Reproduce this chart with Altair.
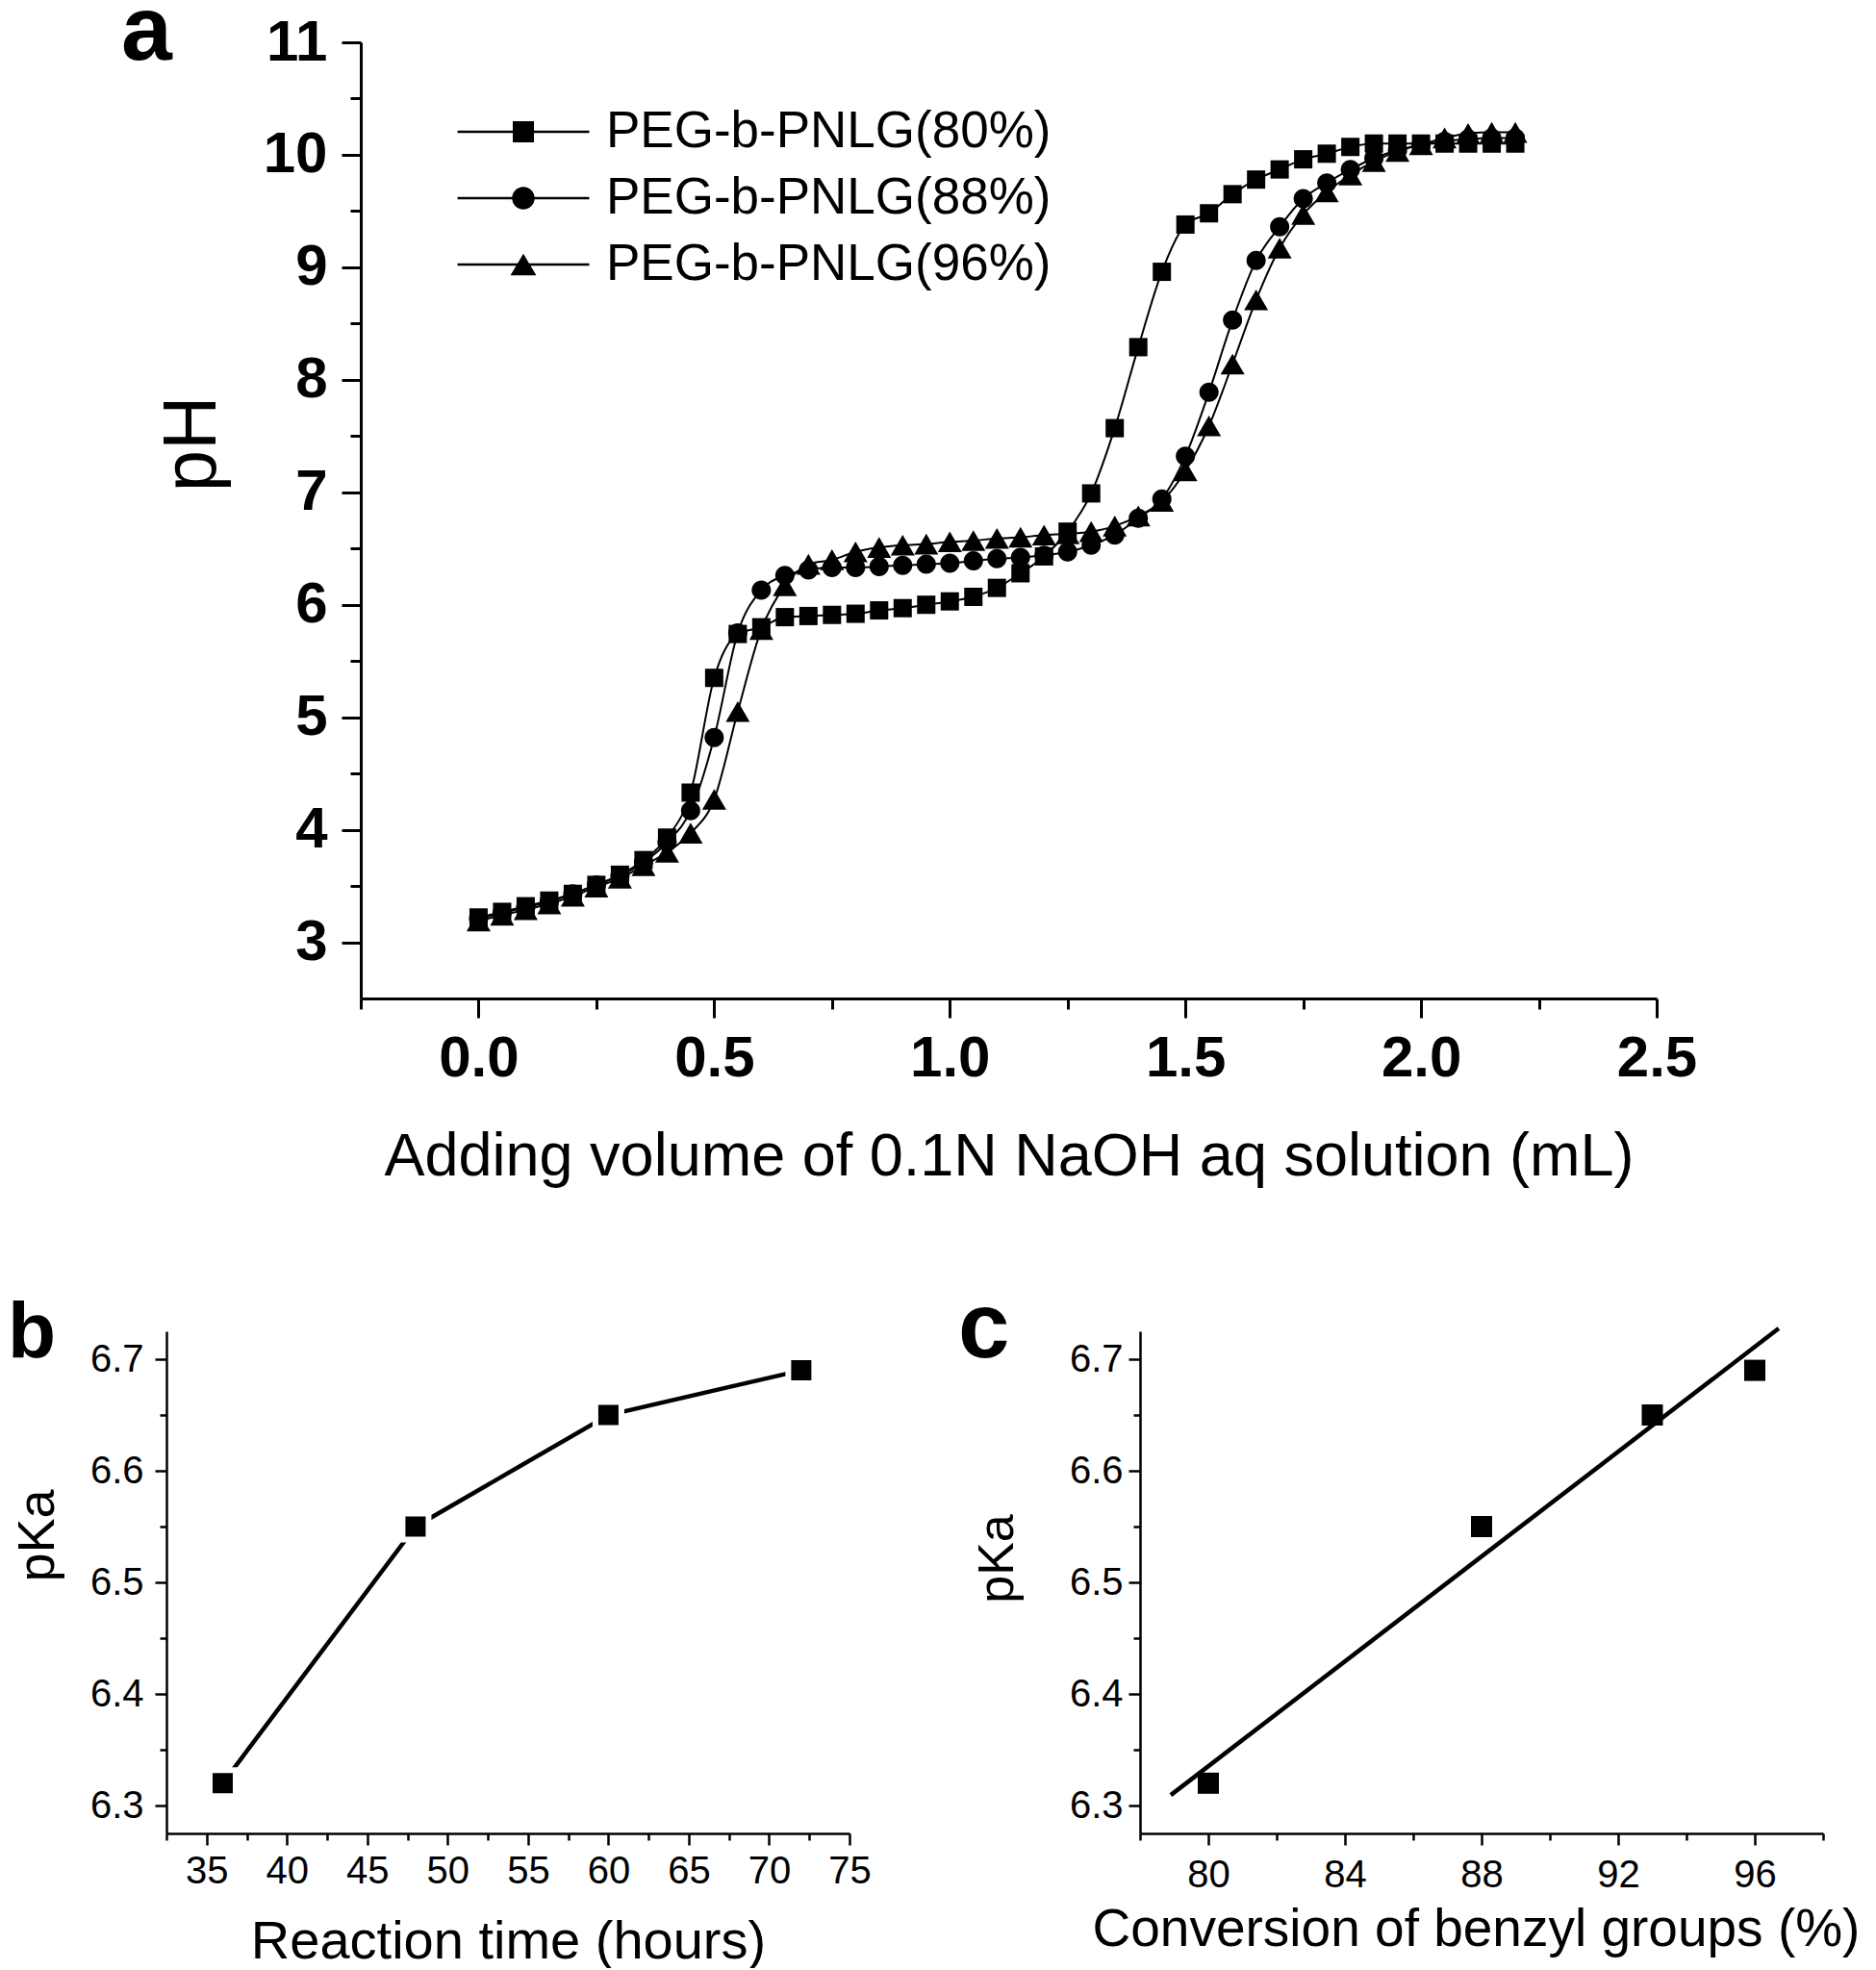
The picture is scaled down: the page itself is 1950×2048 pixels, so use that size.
import altair as alt
import pandas as pd

FONT = "Liberation Sans"

# ---------------- Panel a : titration curves ----------------
volume = [0.00, 0.05, 0.10, 0.15, 0.20, 0.25, 0.30, 0.35, 0.40, 0.45,
          0.50, 0.55, 0.60, 0.65, 0.70, 0.75, 0.80, 0.85, 0.90, 0.95,
          1.00, 1.05, 1.10, 1.15, 1.20, 1.25, 1.30, 1.35, 1.40, 1.45,
          1.50, 1.55, 1.60, 1.65, 1.70, 1.75, 1.80, 1.85, 1.90, 1.95,
          2.00, 2.05, 2.10, 2.15, 2.20]
ph_80 = [3.22, 3.27, 3.32, 3.37, 3.43, 3.51, 3.60, 3.73, 3.93, 4.33,
         5.35, 5.74, 5.80, 5.89, 5.90, 5.91, 5.92, 5.95, 5.97, 6.00,
         6.03, 6.07, 6.15, 6.28, 6.43, 6.65, 6.99, 7.57, 8.29, 8.96,
         9.38, 9.48, 9.65, 9.78, 9.87, 9.96, 10.01, 10.07, 10.10, 10.10,
         10.10, 10.10, 10.10, 10.10, 10.10]
ph_88 = [3.21, 3.26, 3.31, 3.36, 3.43, 3.51, 3.59, 3.71, 3.89, 4.17,
         4.82, 5.75, 6.13, 6.26, 6.31, 6.33, 6.33, 6.34, 6.35, 6.36,
         6.37, 6.39, 6.41, 6.42, 6.44, 6.47, 6.53, 6.62, 6.77, 6.94,
         7.32, 7.89, 8.53, 9.06, 9.36, 9.61, 9.75, 9.87, 9.97, 10.04,
         10.09, 10.12, 10.14, 10.15, 10.15]
ph_96 = [3.19, 3.24, 3.29, 3.34, 3.41, 3.49, 3.57, 3.68, 3.80, 3.97,
         4.27, 5.05, 5.78, 6.17, 6.36, 6.40, 6.47, 6.51, 6.53, 6.54,
         6.56, 6.57, 6.59, 6.60, 6.62, 6.63, 6.65, 6.70, 6.79, 6.92,
         7.19, 7.59, 8.14, 8.71, 9.17, 9.47, 9.67, 9.82, 9.94, 10.03,
         10.09, 10.15, 10.19, 10.20, 10.20]
series_names = ["PEG-b-PNLG(80%)", "PEG-b-PNLG(88%)", "PEG-b-PNLG(96%)"]

a_x_major = [0.0, 0.5, 1.0, 1.5, 2.0, 2.5]
a_x_minor = [-0.25, 0.25, 0.75, 1.25, 1.75, 2.25]
a_y_major = [3, 4, 5, 6, 7, 8, 9, 10, 11]
a_y_minor = [3.5, 4.5, 5.5, 6.5, 7.5, 8.5, 9.5, 10.5]

# ---------------- Panel b : pKa vs reaction time ----------------
reaction_time = [36, 48, 60, 72]
pka_time = [6.32, 6.55, 6.65, 6.69]
b_x_major = [35, 40, 45, 50, 55, 60, 65, 70, 75]
b_x_minor = [32.5, 37.5, 42.5, 47.5, 52.5, 57.5, 62.5, 67.5, 72.5]

# ---------------- Panel c : pKa vs conversion ----------------
conversion = [80, 88, 93, 96]
pka_conv = [6.32, 6.55, 6.65, 6.69]
c_x_major = [80, 84, 88, 92, 96]
c_x_minor = [78, 82, 86, 90, 94, 98]

pka_major = [6.3, 6.4, 6.5, 6.6, 6.7]
pka_minor = [6.35, 6.45, 6.55, 6.65]

panel_labels = ["a", "b", "c"]

# marker glyphs (custom symbol paths, unit box scaled by sqrt(size)/2)
marker_paths = [
    "M-0.76,-0.76H0.76V0.76H-0.76Z",
    "M0.8,0C0.8,0.4418,0.4418,0.8,0,0.8C-0.4418,0.8,-0.8,0.4418,-0.8,0"
    "C-0.8,-0.4418,-0.4418,-0.8,0,-0.8C0.4418,-0.8,0.8,-0.4418,0.8,0Z",
    "M0,-0.866L1,0.866L-1,0.866Z",
]
# legend glyphs: a thin filled bar (the connecting line) plus the marker, all filled
legend_paths = [
    "M-1.63,-0.0286H1.63V0.0286H-1.63Z"
    "M-0.262,-0.262H0.262V0.262H-0.262Z",
    "M-1.63,-0.0286H1.63V0.0286H-1.63Z"
    "M0.28,0C0.28,0.1546,0.1546,0.28,0,0.28C-0.1546,0.28,-0.28,0.1546,-0.28,0"
    "C-0.28,-0.1546,-0.1546,-0.28,0,-0.28C0.1546,-0.28,0.28,-0.1546,0.28,0Z",
    "M-1.63,-0.0286H1.63V0.0286H-1.63Z"
    "M0,-0.27L0.32,0.27L-0.32,0.27Z",
]

rows = []
for name, vals in zip(series_names, [ph_80, ph_88, ph_96]):
    for v, p in zip(volume, vals):
        rows.append({"volume": v, "ph": p, "series": name})
df_a = pd.DataFrame(rows)
df_b = pd.DataFrame({"time": reaction_time, "pka": pka_time})
df_c = pd.DataFrame({"conv": conversion, "pka": pka_conv})

NOVIEW = alt.ViewBackground(stroke="transparent", strokeWidth=0)


def axis(values, tick, width, font_size=40, labels=True, fmt=None, domain=True,
         pad=0, orient="bottom", bold=False, **kw):
    props = dict(values=values, orient=orient, ticks=True, tickSize=tick, tickWidth=width,
                 tickColor="black", domain=domain, domainColor="black", domainWidth=width,
                 grid=False, labels=labels, labelFont=FONT, labelFontSize=font_size,
                 labelColor="black", labelPadding=pad, labelOverlap=False, labelFlush=False,
                 labelFontWeight="bold" if bold else "normal",
                 titleFont=FONT, titleColor="black", titleFontWeight="normal")
    if fmt:
        props["format"] = fmt
    props.update(kw)
    return alt.Axis(**props)


def letter(idx, size, px, py):
    return alt.Chart(pd.DataFrame({"label": [panel_labels[idx]]})).mark_text(
        align="left", baseline="alphabetic", fontSize=size, fontWeight="bold",
        font=FONT, color="black").encode(text="label:N", x=alt.value(px), y=alt.value(py))


# ---------------- chart a ----------------
xa = alt.Scale(domain=[-0.25, 2.5], nice=False, zero=False)
ya = alt.Scale(domain=[2.5, 11], nice=False, zero=False)
base_a = alt.Chart(df_a)

lines_a = base_a.mark_line(color="black", strokeWidth=2, interpolate="monotone").encode(
    x=alt.X("volume:Q", scale=xa, axis=axis(a_x_minor, 11, 3, labels=False, domain=False, title=None)),
    y=alt.Y("ph:Q", scale=ya, axis=axis(a_y_minor, 11, 3, labels=False, domain=False,
                                        orient="left", title=None)),
    detail="series:N",
)
points_a = base_a.mark_point(filled=True, fill="black", opacity=1, size=625).encode(
    x=alt.X("volume:Q", scale=xa,
            axis=axis(a_x_major, 20, 3, 60, fmt=".1f", pad=13, bold=True,
                      title="Adding volume of 0.1N NaOH aq solution (mL)",
                      titleFontSize=63, titlePadding=41)),
    y=alt.Y("ph:Q", scale=ya,
            axis=axis(a_y_major, 20, 3, 60, fmt="d", pad=15, orient="left", bold=True,
                      title="pH", titleFontSize=78, titleAngle=270, titleX=-152, titleY=417,
                      titleBaseline="alphabetic", titleAlign="center")),
    shape=alt.Shape("series:N", scale=alt.Scale(domain=series_names, range=marker_paths),
                    legend=None),
)
legend_a = base_a.transform_filter("false").mark_point(
    filled=True, fill="black", opacity=1).encode(
    shape=alt.Shape("series:N", scale=alt.Scale(domain=series_names, range=legend_paths),
                    legend=alt.Legend(orient="none", legendX=127, legendY=51, title=None,
                                      padding=0, labelFont=FONT, labelFontSize=53,
                                      labelColor="black", labelLimit=0, labelOffset=44,
                                      rowPadding=0, symbolSize=7056, symbolStrokeWidth=0,
                                      symbolFillColor="black", symbolOpacity=1,
                                      strokeColor="transparent")),
)
chart_a = (alt.layer(lines_a, points_a, legend_a, letter(0, 95, -249, 18))
           .resolve_scale(shape="independent")
           .resolve_axis(x="independent", y="independent")
           .properties(width=1347, height=994, view=NOVIEW))

# ---------------- chart b ----------------
xb = alt.Scale(domain=[32.5, 75], nice=False, zero=False)
yk = alt.Scale(domain=[6.275, 6.725], nice=False, zero=False)
line_b = alt.Chart(df_b).mark_line(color="black", strokeWidth=4.5).encode(
    x=alt.X("time:Q", scale=xb, axis=axis(b_x_minor, 7, 2.5, labels=False, domain=False, title=None)),
    y=alt.Y("pka:Q", scale=yk, axis=axis(pka_minor, 7, 2.5, labels=False, domain=False,
                                         orient="left", title=None)),
)
pts_b = alt.Chart(df_b).mark_point(shape="square", filled=True, fill="black", stroke="white",
                                   strokeWidth=6, size=729, opacity=1).encode(
    x=alt.X("time:Q", scale=xb,
            axis=axis(b_x_major, 12, 2.5, 40, fmt="d", pad=7, title="Reaction time (hours)",
                      titleFontSize=56, titlePadding=26)),
    y=alt.Y("pka:Q", scale=yk,
            axis=axis(pka_major, 12, 2.5, 40, fmt=".1f", pad=12, orient="left", title="pKa",
                      titleFontSize=54, titleAngle=270, titleX=-118, titleY=212,
                      titleBaseline="alphabetic", titleAlign="center")),
)
chart_b = (alt.layer(line_b, pts_b, letter(1, 82, -165, 27))
           .resolve_axis(x="independent", y="independent")
           .properties(width=710, height=522, view=NOVIEW))

# ---------------- chart c ----------------
xc = alt.Scale(domain=[78, 98], nice=False, zero=False)
fit_c = alt.Chart(df_c).transform_regression("conv", "pka", extent=[78.9, 96.7]).mark_line(
    color="black", strokeWidth=4.5).encode(
    x=alt.X("conv:Q", scale=xc, axis=axis(c_x_minor, 7, 2.5, labels=False, domain=False, title=None)),
    y=alt.Y("pka:Q", scale=yk, axis=axis(pka_minor, 7, 2.5, labels=False, domain=False,
                                         orient="left", title=None)),
)
pts_c = alt.Chart(df_c).mark_point(shape="square", filled=True, fill="black", size=484,
                                   opacity=1).encode(
    x=alt.X("conv:Q", scale=xc,
            axis=axis(c_x_major, 12, 2.5, 40, fmt="d", pad=11,
                      title="Conversion of benzyl groups (%)", titleFontSize=55, titlePadding=10,
                      titleX=349, titleAlign="center")),
    y=alt.Y("pka:Q", scale=yk,
            axis=axis(pka_major, 12, 2.5, 40, fmt=".1f", pad=6, orient="left", title="pKa",
                      titleFontSize=52, titleAngle=270, titleX=-133, titleY=236,
                      titleBaseline="alphabetic", titleAlign="center")),
)
chart_c = (alt.layer(fit_c, pts_c, letter(2, 96, -189, 27))
           .resolve_axis(x="independent", y="independent")
           .properties(width=710, height=522, view=NOVIEW))

# ---------------- layout ----------------
spacer = alt.Chart(pd.DataFrame({"s": [0]})).mark_point(opacity=0, size=1).encode(
    x=alt.value(5), y=alt.value(5)).properties(width=202, height=10, view=NOVIEW)

row_a = alt.hconcat(spacer, chart_a, spacing=0, bounds="flush")
row_bc = alt.hconcat(chart_b, chart_c, spacing=302, bounds="flush")

chart = (alt.vconcat(row_a, row_bc, spacing=100)
         .properties(padding={"top": -22, "left": 0, "right": 0, "bottom": 0})
         .configure_view(stroke="transparent", strokeWidth=0)
         .configure(font=FONT))

chart.save("out.html", embed_options={"renderer": "svg", "actions": False})
